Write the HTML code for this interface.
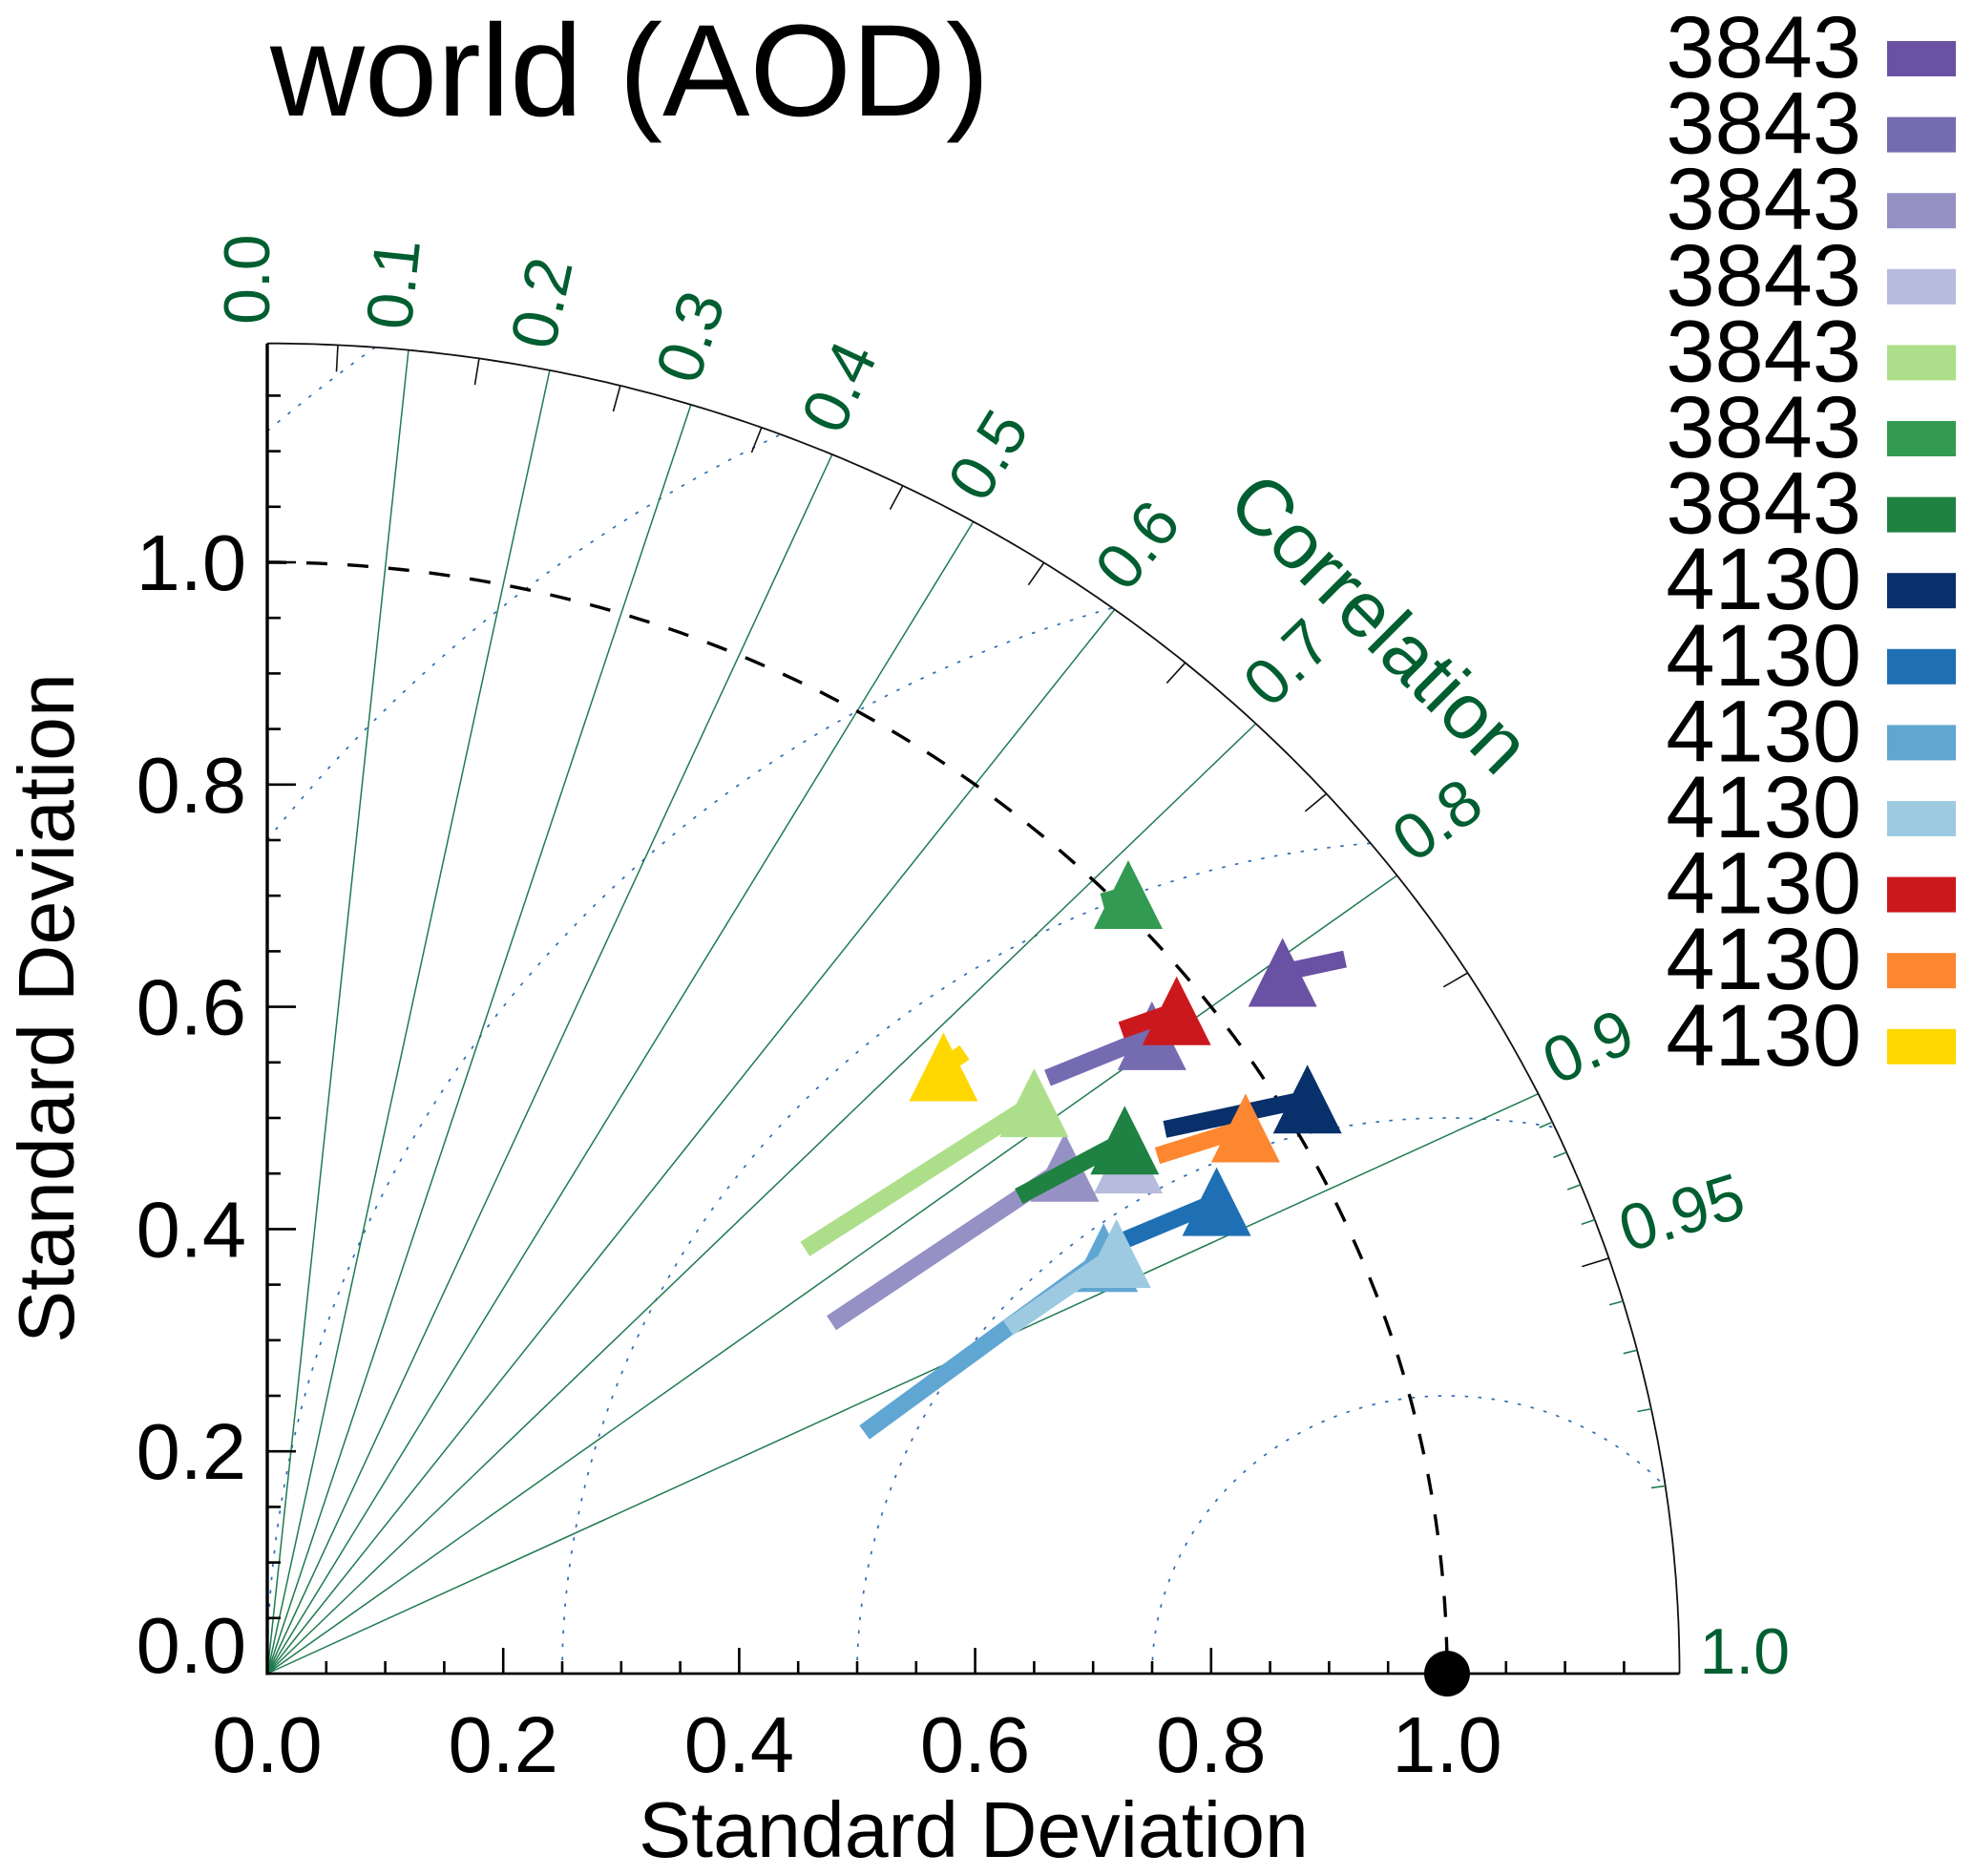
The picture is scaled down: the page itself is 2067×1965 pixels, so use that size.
<!DOCTYPE html>
<html>
<head>
<meta charset="utf-8">
<title>world (AOD) Taylor diagram</title>
<style>
html,body{margin:0;padding:0;background:#fff;}
svg{display:block;font-family:"Liberation Sans",Arial,sans-serif;}
</style>
</head>
<body>
<svg id="chart" xmlns="http://www.w3.org/2000/svg" width="2067" height="1965" viewBox="0 0 2067 1965">
<rect x="0" y="0" width="2067" height="1965" fill="#fff"/>
<text x="283" y="121" font-size="137" fill="#000">world (AOD)</text>
<text x="1020" y="1945" font-size="82.5" text-anchor="middle" fill="#000">Standard Deviation</text>
<text transform="translate(77,1056) rotate(-90)" font-size="82.5" text-anchor="middle" fill="#000">Standard Deviation</text>
<text transform="translate(1283,530) rotate(45)" font-size="82.5" fill="#005e30">Correlation</text>
<g id="grid"></g>
<g id="axes"></g>
<g id="marks"></g>
<g id="legend"></g>
</svg>
<script>
// ---- data ----
const seriesLabels = ['3843','3843','3843','3843','3843','3843','3843','4130','4130','4130','4130','4130','4130','4130'];
const stdX  = [0.8606,0.7498,0.6759,0.7298,0.650,0.7298,0.7268,0.8816,0.8047,0.7089,0.7198,0.7708,0.8292,0.5731];
const stdY  = [0.631,0.574,0.4555,0.463,0.5137,0.701,0.480,0.517,0.4247,0.3744,0.378,0.5965,0.491,0.546];
const tailX = [0.9135,0.6614,0.4782,0.7188,0.4558,0.7079,0.637,0.7608,0.7098,0.5062,0.628,0.7238,0.7544,0.591];
const tailY = [0.643,0.536,0.3155,0.455,0.382,0.6945,0.4295,0.4897,0.3826,0.217,0.311,0.579,0.466,0.559];
const seriesColors = ['#6a51a3','#756bb1','#9691c4','#b7bbdc','#addf8b','#339a52','#1f8242','#08306b','#1f6fb4','#5fa6d3','#9ecae1','#cb181d','#fd8731','#ffd700'];
const xTickValues = [0,0.2,0.4,0.6,0.8,1.0];
const xTickLabels = ['0.0','0.2','0.4','0.6','0.8','1.0'];
const yTickValues = [0,0.2,0.4,0.6,0.8,1.0];
const yTickLabels = ['0.0','0.2','0.4','0.6','0.8','1.0'];
const corrLines = [0.1,0.2,0.3,0.4,0.5,0.6,0.7,0.8,0.9];
const corrLabelValues = [0,0.1,0.2,0.3,0.4,0.5,0.6,0.7,0.8,0.9,0.95,1.0];
const corrLabelText = ['0.0','0.1','0.2','0.3','0.4','0.5','0.6','0.7','0.8','0.9','0.95','1.0'];
const corrMajorTicks = [0.05,0.15,0.25,0.35,0.45,0.55,0.65,0.75,0.85,0.95];
const corrMinorTicks = [0.91,0.92,0.93,0.94,0.96,0.97,0.98,0.99];
const rmsRadii = [0.25,0.5,0.75,1.0,1.25,1.5];
const axisMax = 1.197;
const refStd = 1.0;

// ---- axis functions ----
const X0 = 280, Y0 = 1753, SX = 1236, SY = 1164;
const sxf = v => X0 + v * SX;
const syf = v => Y0 - v * SY;
const NS = 'http://www.w3.org/2000/svg';
const gridG = document.getElementById('grid');
const axesG = document.getElementById('axes');
const marksG = document.getElementById('marks');
const legendG = document.getElementById('legend');
function mk(parent, tag, attrs, txt){
  const el = document.createElementNS(NS, tag);
  for (const k in attrs) el.setAttribute(k, attrs[k]);
  if (txt !== undefined) el.textContent = txt;
  parent.appendChild(el);
  return el;
}
function polar(r, s){ const a = Math.acos(r); return [s*r, s*Math.sin(a)]; }

// rms circles (dotted)
rmsRadii.forEach(R => {
  const xEnd = (axisMax*axisMax + 1 - R*R) / 2;
  const tStart = R > 1 ? Math.acos(-1/R) : Math.PI;
  const tEnd = Math.acos((xEnd - 1) / R);
  let d = '';
  for (let i = 0; i <= 160; i++){
    const t = tStart + (tEnd - tStart) * i / 160;
    d += (i ? 'L' : 'M') + sxf(1 + R*Math.cos(t)).toFixed(1) + ' ' + syf(R*Math.sin(t)).toFixed(1);
  }
  const el = mk(gridG, 'path', {d:d, fill:'none', stroke:'#2f6db5', 'stroke-width':1.7, 'stroke-dasharray':'3.5 10.5'});
  
  
});

// correlation lines
corrLines.forEach(r => {
  const p = polar(r, axisMax);
  const el = mk(gridG, 'line', {x1:sxf(0), y1:syf(0), x2:sxf(p[0]), y2:syf(p[1]), stroke:'#1f7a50', 'stroke-width':1.5});
  
  
});

// reference std arc (dashed)
(function(){
  let d = '';
  for (let i = 0; i <= 180; i++){
    const a = Math.PI/2 * (1 - i/180);
    d += (i ? 'L' : 'M') + sxf(refStd*Math.cos(a)).toFixed(1) + ' ' + syf(refStd*Math.sin(a)).toFixed(1);
  }
  const el = mk(gridG, 'path', {d:d, fill:'none', stroke:'#000', 'stroke-width':3.4, 'stroke-dasharray':'22 21', 'stroke-dashoffset':2});
  
  
})();

// outer arc
(function(){
  let d = '';
  for (let i = 0; i <= 240; i++){
    const a = Math.PI/2 * (1 - i/240);
    d += (i ? 'L' : 'M') + sxf(axisMax*Math.cos(a)).toFixed(1) + ' ' + syf(axisMax*Math.sin(a)).toFixed(1);
  }
  const el = mk(axesG, 'path', {d:d, fill:'none', stroke:'#111', 'stroke-width':1.8});
  
  
})();

// correlation ticks
corrMajorTicks.forEach(r => {
  const p1 = polar(r, axisMax), p2 = polar(r, axisMax - 0.024);
  const el = mk(axesG, 'line', {x1:sxf(p1[0]), y1:syf(p1[1]), x2:sxf(p2[0]), y2:syf(p2[1]), stroke:'#111', 'stroke-width':1.6});
  
  
});
corrMinorTicks.forEach(r => {
  const p1 = polar(r, axisMax), p2 = polar(r, axisMax - 0.012);
  const el = mk(axesG, 'line', {x1:sxf(p1[0]), y1:syf(p1[1]), x2:sxf(p2[0]), y2:syf(p2[1]), stroke:'#1f7a50', 'stroke-width':1.6});
  
  
});

// correlation labels
corrLabelValues.forEach((r, i) => {
  const p = polar(r, 1.214);
  const ang = Math.atan2(p[1]*SY, p[0]*SX) * 180 / Math.PI;
  const el = mk(axesG, 'text', {
    transform:'translate(' + (sxf(p[0]) + (r === 0 ? 2 : 0)).toFixed(1) + ',' + syf(p[1]).toFixed(1) + ') rotate(' + (-ang).toFixed(2) + ')',
    'font-size':68, fill:'#005e30'
  }, corrLabelText[i]);
  
  
});

// axis lines
(function(){
  const a = mk(axesG, 'line', {x1:sxf(0), y1:syf(0)+1.5, x2:sxf(0), y2:syf(axisMax), stroke:'#000', 'stroke-width':3.4});
  
  
  const b = mk(axesG, 'line', {x1:sxf(0)-1.5, y1:syf(0), x2:sxf(axisMax), y2:syf(0), stroke:'#000', 'stroke-width':2.8});
  
  
})();

// minor & major ticks
for (let i = 1; i <= 23; i++){
  const v = i * 0.05;
  const major = i % 4 === 0;
  const tx = mk(axesG, 'line', {x1:sxf(v), y1:syf(0), x2:sxf(v), y2:syf(0) - (major ? 27 : 13), stroke:'#000', 'stroke-width':2.6});
  
  
  const ty = mk(axesG, 'line', {x1:sxf(0), y1:syf(v), x2:sxf(0) + (major ? 30 : 14), y2:syf(v), stroke:'#000', 'stroke-width':2.6});
  
  
}

// tick labels
xTickValues.forEach((v, i) => {
  const el = mk(axesG, 'text', {x:sxf(v), y:1856, 'font-size':83, 'text-anchor':'middle', fill:'#000'}, xTickLabels[i]);
  
  
});
yTickValues.forEach((v, i) => {
  const base = v === 0 ? syf(0) - 1 : syf(v) + 29;
  const el = mk(axesG, 'text', {x:258, y:base, 'font-size':83, 'text-anchor':'end', fill:'#000'}, yTickLabels[i]);
  
  
});

// reference point
(function(){
  const el = mk(axesG, 'circle', {cx:sxf(refStd), cy:syf(0), r:24, fill:'#000'});
  
  
})();

// series: tail + triangle, in legend order
const TRI_HALF_W = 36, TRI_HALF_H = 36, TAIL_W = 18;
seriesLabels.forEach((label, i) => {
  const cx = sxf(stdX[i]), cy = syf(stdY[i]);
  const tail = mk(marksG, 'line', {x1:sxf(tailX[i]), y1:syf(tailY[i]), x2:cx, y2:cy, stroke:seriesColors[i], 'stroke-width':TAIL_W});
  
  
  const pts = [[cx, cy-TRI_HALF_H],[cx+TRI_HALF_W, cy+TRI_HALF_H],[cx-TRI_HALF_W, cy+TRI_HALF_H]]
    .map(p => p[0].toFixed(1) + ',' + p[1].toFixed(1)).join(' ');
  const tri = mk(marksG, 'polygon', {points:pts, fill:seriesColors[i]});
  
  
});

// legend
seriesLabels.forEach((label, i) => {
  const base = 81 + i * 79.6;
  const t = mk(legendG, 'text', {x:1950, y:base, 'font-size':92, 'text-anchor':'end', fill:'#000'}, label);
  
  
  const s = mk(legendG, 'rect', {x:1977, y:base - 38, width:72, height:37, fill:seriesColors[i]});
  
  
});
</script>
</body>
</html>
